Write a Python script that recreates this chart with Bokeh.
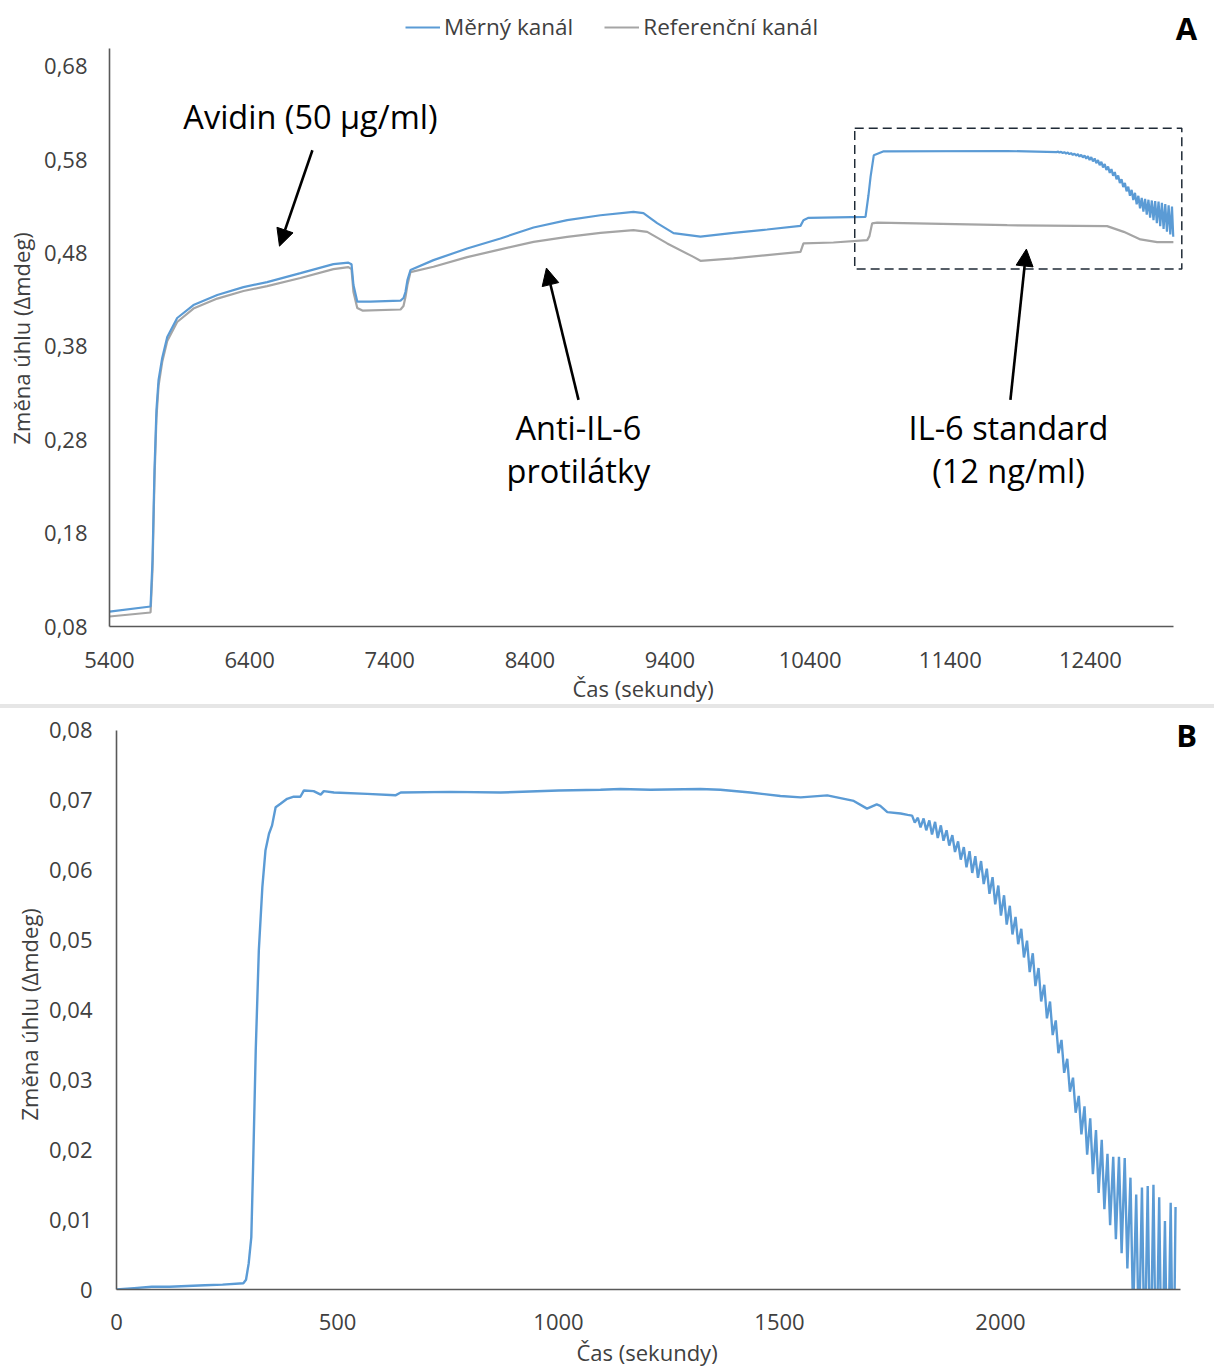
from bokeh.plotting import figure
from bokeh.models import (Range1d, FixedTicker, CustomJSTickFormatter, Legend, LegendItem,
                          Label, Arrow, NormalHead, BoxAnnotation, Div, Title)
from bokeh.layouts import column
from bokeh.embed import file_html
from bokeh.resources import INLINE

FONT = "Open Sans"
BLUE = "#5B9BD5"
GREY = "#A5A5A5"
TXT = "#404040"

# ---------------- Panel A data ----------------
a_blue_t = [5400, 5693, 5707, 5721, 5735, 5750, 5776, 5812, 5883, 5999,
            6169, 6356, 6525, 6763, 6998, 7105, 7127, 7141, 7168, 7262,
            7477, 7498, 7512, 7526, 7548, 7712, 7952, 8190, 8426, 8666,
            8904, 9139, 9210, 9308, 9425, 9617, 9853, 10093, 10331, 10352,
            10388, 10795, 10816, 10831, 10854, 10925, 11806, 12162]
a_blue_v = [0.0960, 0.1014, 0.1517, 0.2479, 0.3121, 0.3442, 0.3677, 0.3902, 0.4105, 0.4244,
            0.4351, 0.4436, 0.4490, 0.4586, 0.4682, 0.4698, 0.4682, 0.4458, 0.4281, 0.4281,
            0.4292, 0.4319, 0.4383, 0.4511, 0.4618, 0.4725, 0.4850, 0.4957, 0.5075, 0.5153,
            0.5206, 0.5242, 0.5228, 0.5121, 0.5014, 0.4976, 0.5017, 0.5053, 0.5092, 0.5153,
            0.5178, 0.5188, 0.5420, 0.5616, 0.5848, 0.5891, 0.5894, 0.5883]
# noisy tail of the measuring channel (alternating peak / trough readings)
a_blue_tail_t = [12166, 12178, 12190, 12202, 12214, 12226, 12238, 12250, 12262, 12274,
                 12286, 12298, 12310, 12322, 12334, 12346, 12358, 12370, 12382, 12394,
                 12406, 12418, 12430, 12442, 12454, 12466, 12478, 12490, 12502, 12514,
                 12526, 12538, 12550, 12562, 12574, 12586, 12598, 12610, 12622, 12634,
                 12646, 12658, 12670, 12682, 12694, 12706, 12718, 12730, 12742, 12754,
                 12766, 12778, 12790, 12802, 12814, 12826, 12838, 12850, 12862, 12874,
                 12886, 12898, 12910, 12922, 12934, 12946, 12958, 12970, 12982, 12991]
a_blue_tail_v = [0.5890, 0.5878, 0.5886, 0.5872, 0.5882, 0.5866, 0.5878, 0.5860, 0.5872, 0.5852,
                 0.5866, 0.5844, 0.5860, 0.5834, 0.5854, 0.5824, 0.5846, 0.5812, 0.5838, 0.5798,
                 0.5828, 0.5782, 0.5814, 0.5764, 0.5798, 0.5742, 0.5778, 0.5718, 0.5754, 0.5690,
                 0.5728, 0.5660, 0.5700, 0.5628, 0.5668, 0.5592, 0.5632, 0.5552, 0.5592, 0.5508,
                 0.5552, 0.5462, 0.5512, 0.5414, 0.5478, 0.5368, 0.5446, 0.5322, 0.5414, 0.5280,
                 0.5392, 0.5244, 0.5380, 0.5212, 0.5372, 0.5180, 0.5364, 0.5152, 0.5358, 0.5120,
                 0.5352, 0.5090, 0.5340, 0.5060, 0.5326, 0.5030, 0.5312, 0.5000, 0.5300, 0.4975]

a_grey_t = [5400, 5693, 5707, 5721, 5735, 5750, 5776, 5812, 5883, 5999,
            6169, 6356, 6525, 6763, 6998, 7105, 7127, 7141, 7168, 7205,
            7477, 7498, 7512, 7526, 7548, 7712, 7952, 8190, 8426, 8666,
            8904, 9139, 9237, 9380, 9567, 9617, 9853, 10093, 10331, 10352,
            10566, 10807, 10823, 10842, 10878, 11806, 12519, 12638, 12757, 12876, 12992]
a_grey_v = [0.0907, 0.0950, 0.1410, 0.2372, 0.3035, 0.3378, 0.3634, 0.3859, 0.4062, 0.4206,
            0.4313, 0.4394, 0.4447, 0.4533, 0.4629, 0.4650, 0.4629, 0.4383, 0.4212, 0.4185,
            0.4196, 0.4233, 0.4329, 0.4458, 0.4597, 0.4654, 0.4757, 0.4840, 0.4921, 0.4974,
            0.5017, 0.5046, 0.5028, 0.4904, 0.4760, 0.4718, 0.4743, 0.4779, 0.4814, 0.4904,
            0.4914, 0.4939, 0.4982, 0.5118, 0.5126, 0.5099, 0.5089, 0.5028, 0.4947, 0.4918, 0.4918]

a_xticks = [5400, 6400, 7400, 8400, 9400, 10400, 11400, 12400]
a_yticks = [0.08, 0.18, 0.28, 0.38, 0.48, 0.58, 0.68]
a_x_bounds = (5400, 12992)
a_y_bounds = (0.08, 0.6993)
series_names = ["Měrný kanál", "Referenční kanál"]

# annotations of panel A
ann_text = ["Avidin (50 µg/ml)", "Anti-IL-6", "protilátky", "IL-6 standard", "(12 ng/ml)"]
ann_x = [6834, 8746, 8746, 11815, 11815]
ann_y = [0.6265, 0.2928, 0.2468, 0.2928, 0.2468]
arr_x0 = [6848, 8747, 11829]
arr_y0 = [0.5902, 0.3228, 0.3228]
arr_x1 = [6613, 8518, 11943]
arr_y1 = [0.4875, 0.4640, 0.4843]
box_lrbt = (10718, 13052, 0.4629, 0.6137)

# ---------------- Panel B data ----------------
b_t = [0, 40, 80, 120, 160, 200, 240,
       287, 293, 299, 305, 309, 315, 322, 330, 337, 345, 352, 360, 371, 386, 401, 416, 424, 446, 462, 469, 492,
       567, 631, 643, 756, 869, 1000, 1095, 1140, 1208, 1321, 1366, 1434, 1502, 1548, 1608, 1668, 1698,
       1720, 1728, 1744, 1774, 1790,
       1800, 1806, 1813, 1819, 1826, 1832, 1839, 1845, 1852, 1858, 1865, 1871, 1878, 1884, 1891, 1897,
       1904, 1910, 1917, 1923, 1930, 1936, 1943, 1949, 1956, 1962, 1969, 1975, 1982, 1988, 1995, 2001,
       2008, 2014, 2021, 2027, 2034, 2040, 2047, 2053, 2060, 2066, 2073, 2079, 2086, 2092, 2099, 2105,
       2112, 2118, 2125, 2131, 2138, 2144, 2151, 2157, 2164, 2170, 2177, 2183, 2190, 2196, 2203, 2209,
       2216, 2222, 2229, 2235, 2242, 2248, 2255, 2261, 2268, 2274, 2281, 2287, 2294, 2300, 2307, 2313,
       2320, 2326, 2333, 2339, 2346, 2352, 2359, 2365, 2372, 2378, 2385, 2391, 2396]
b_v = [0.0000, 0.0002, 0.0004, 0.0004, 0.0005, 0.0006, 0.0007,
       0.0009, 0.0014, 0.0037, 0.0075, 0.0175, 0.0342, 0.0485, 0.0576, 0.0628, 0.0652, 0.0664, 0.0690,
       0.0695, 0.0702, 0.0705, 0.0705, 0.0714, 0.0713, 0.0708, 0.0713, 0.0711,
       0.0709, 0.0707, 0.0711, 0.0712, 0.0711, 0.0714, 0.0715, 0.0716, 0.0715, 0.0716, 0.0715, 0.0711,
       0.0706, 0.0704, 0.0707, 0.0699, 0.0688, 0.0694, 0.0692, 0.0683, 0.0681, 0.0679,
       0.0678, 0.0668, 0.0675, 0.0661, 0.0674, 0.0657, 0.0671, 0.0651, 0.0669, 0.0646, 0.0664, 0.0642,
       0.0657, 0.0635, 0.0650, 0.0626, 0.0641, 0.0615, 0.0633, 0.0604, 0.0627, 0.0596, 0.0620, 0.0589,
       0.0613, 0.0580, 0.0602, 0.0566, 0.0590, 0.0551, 0.0578, 0.0535, 0.0564, 0.0522, 0.0549, 0.0508,
       0.0533, 0.0494, 0.0516, 0.0475, 0.0499, 0.0454, 0.0481, 0.0434, 0.0460, 0.0412, 0.0436, 0.0388,
       0.0412, 0.0364, 0.0385, 0.0338, 0.0357, 0.0310, 0.0330, 0.0283, 0.0303, 0.0253, 0.0277, 0.0222,
       0.0262, 0.0193, 0.0245, 0.0165, 0.0228, 0.0138, 0.0214, 0.0115, 0.0194, 0.0092, 0.0190, 0.0072,
       0.0190, 0.0052, 0.0188, 0.0030, 0.0160, -0.0040, 0.0136, -0.0080, 0.0146, -0.0110, 0.0148, -0.0130,
       0.0150, -0.0140, 0.0132, -0.0150, 0.0098, -0.0160, 0.0124, -0.0170, 0.0118]
b_xticks = [0, 500, 1000, 1500, 2000]
b_yticks = [0.0, 0.01, 0.02, 0.03, 0.04, 0.05, 0.06, 0.07, 0.08]
b_x_bounds = (0, 2407)
b_y_bounds = (0, 0.08)

x_title = "Čas (sekundy)"
y_title = "Změna úhlu (Δmdeg)"

comma_fmt = CustomJSTickFormatter(code="return tick === 0 ? '0' : tick.toFixed(2).replace('.', ',');")
int_fmt = CustomJSTickFormatter(code="return tick.toFixed(0);")


def style(p, xstand, ystand):
    for ax in (p.xaxis[0], p.yaxis[0]):
        ax.axis_line_color = "#595959"
        ax.axis_line_width = 1.6
        ax.major_tick_line_color = None
        ax.minor_tick_line_color = None
        ax.major_tick_out = 0
        ax.major_tick_in = 0
        ax.minor_tick_out = 0
        ax.minor_tick_in = 0
        ax.major_label_text_font = FONT
        ax.major_label_text_font_size = "22px"
        ax.major_label_text_color = TXT
    p.xaxis[0].major_label_standoff = xstand
    p.yaxis[0].major_label_standoff = ystand
    p.xgrid.visible = False
    p.ygrid.visible = False
    p.outline_line_color = None
    try:
        p.frame_align = False
    except Exception:
        pass


def axis_titles(p, x_offset, x_standoff, y_offset, y_standoff):
    p.add_layout(Title(text=y_title, align="left", offset=y_offset, vertical_align="middle",
                       standoff=y_standoff, text_font=FONT, text_font_size="22px",
                       text_font_style="normal", text_color=TXT), "left")
    p.add_layout(Title(text=x_title, align="left", offset=x_offset, vertical_align="middle",
                       standoff=x_standoff, text_font=FONT, text_font_size="22px",
                       text_font_style="normal", text_color=TXT), "below")


# ---------------- Figure A ----------------
pA = figure(width=1214, height=704, x_range=Range1d(5400, 13214), y_range=Range1d(0.08, 0.7485),
            output_backend="svg", toolbar_location=None,
            min_border_left=109, min_border_right=10, min_border_top=2, min_border_bottom=77)
style(pA, 25, 22)
axis_titles(pA, 463, 2, 182, 9)
pA.xaxis[0].bounds = a_x_bounds
pA.yaxis[0].bounds = a_y_bounds
pA.xaxis[0].ticker = FixedTicker(ticks=a_xticks)
pA.xaxis[0].formatter = int_fmt
pA.yaxis[0].ticker = FixedTicker(ticks=a_yticks)
pA.yaxis[0].formatter = comma_fmt

rg = pA.line(a_grey_t, a_grey_v, line_color=GREY, line_width=2.2)
rb = pA.line(a_blue_t + a_blue_tail_t, a_blue_v + a_blue_tail_v, line_color=BLUE, line_width=2.2)

legend = Legend(items=[LegendItem(label=series_names[0], renderers=[rb]),
                       LegendItem(label=series_names[1], renderers=[rg])],
                orientation="horizontal", location=(296, 584),
                border_line_alpha=0, background_fill_alpha=0,
                label_text_font=FONT, label_text_font_size="22.5px", label_text_color=TXT,
                glyph_width=35, glyph_height=20, spacing=31, padding=0, margin=0, label_standoff=4)
pA.add_layout(legend)

pA.add_layout(BoxAnnotation(left=box_lrbt[0], right=box_lrbt[1], bottom=box_lrbt[2], top=box_lrbt[3],
                            fill_alpha=0, line_color="#1f2a36", line_alpha=1.0,
                            line_width=1.5, line_dash="9 5"))

for xs, ys, xe, ye in zip(arr_x0, arr_y0, arr_x1, arr_y1):
    pA.add_layout(Arrow(end=NormalHead(size=17, fill_color="black", line_color="black"),
                        x_start=xs, y_start=ys, x_end=xe, y_end=ye,
                        line_color="black", line_width=2.6))

for t, x, y in zip(ann_text, ann_x, ann_y):
    pA.add_layout(Label(x=x, y=y, text=t, text_font=FONT, text_font_size="32.5px",
                        text_color="black", text_align="center", text_baseline="middle"))

pA.add_layout(Label(x=13085, y=0.7217, text="A", text_font=FONT, text_font_size="31px",
                    text_font_style="bold", text_color="black", text_align="center",
                    text_baseline="middle"))

# ---------------- Divider ----------------
divider = Div(text="", width=1214, height=4, margin=0, styles={"background-color": "#e6e6e6"})

# ---------------- Figure B ----------------
pB = figure(width=1214, height=663, x_range=Range1d(0, 2461.5), y_range=Range1d(0, 0.08212),
            output_backend="svg", toolbar_location=None,
            min_border_left=116, min_border_right=10, min_border_top=7, min_border_bottom=82)
style(pB, 24, 24)
axis_titles(pB, 460, 7, 169, 4)
pB.xaxis[0].bounds = b_x_bounds
pB.yaxis[0].bounds = b_y_bounds
pB.xaxis[0].ticker = FixedTicker(ticks=b_xticks)
pB.xaxis[0].formatter = int_fmt
pB.yaxis[0].ticker = FixedTicker(ticks=b_yticks)
pB.yaxis[0].formatter = comma_fmt

pB.line(b_t, b_v, line_color=BLUE, line_width=2.4)

pB.add_layout(Label(x=2421, y=0.0793, text="B", text_font=FONT, text_font_size="31px",
                    text_font_style="bold", text_color="black", text_align="center",
                    text_baseline="middle"))

layout = column(pA, divider, pB, spacing=0)

open("out.html", "w").write(file_html(layout, INLINE))
